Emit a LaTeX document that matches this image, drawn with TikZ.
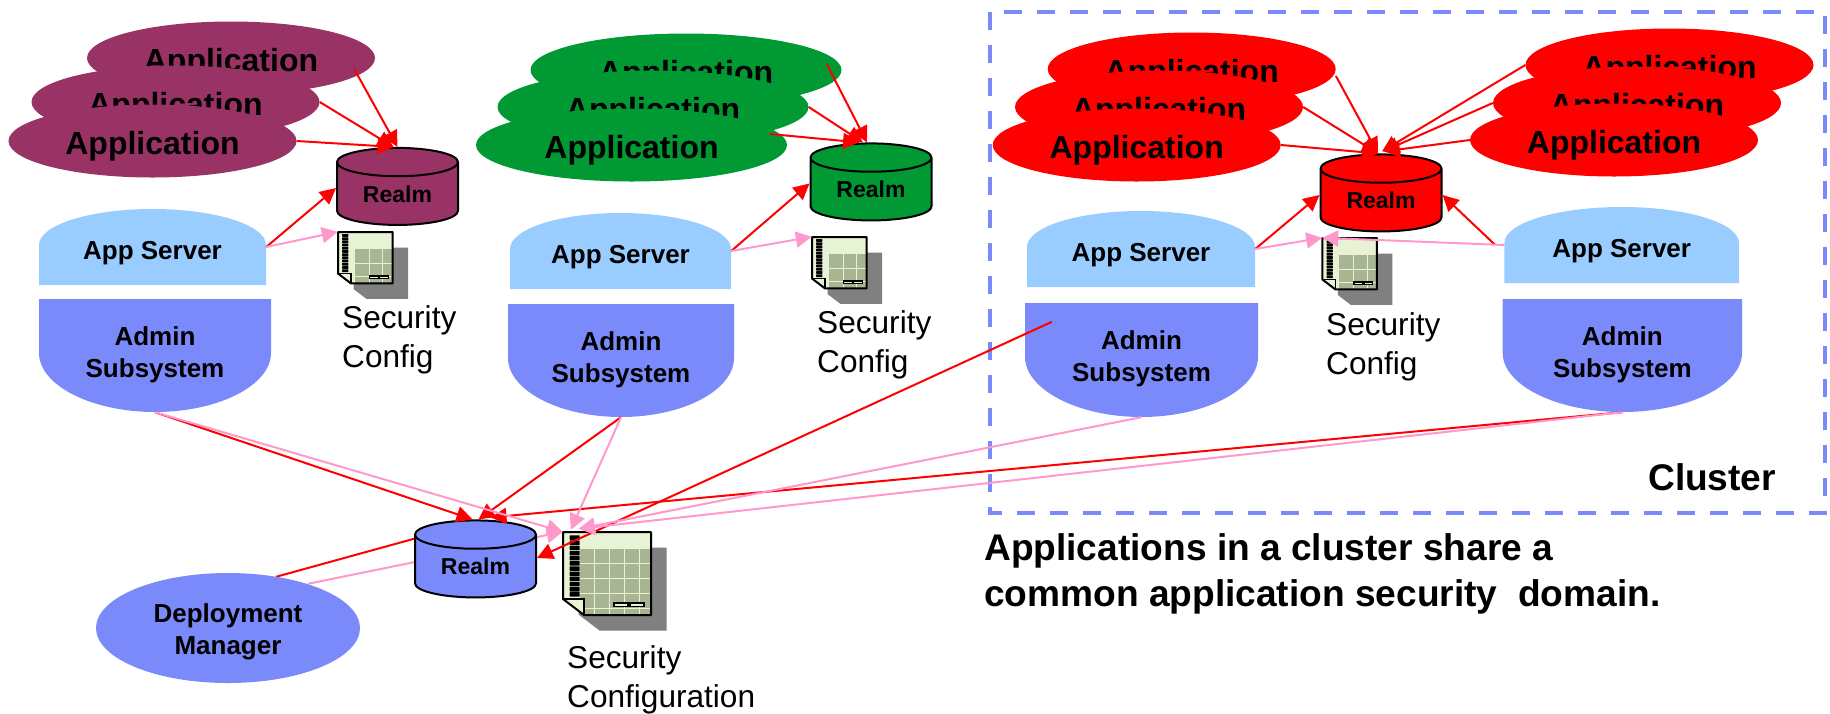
\documentclass[tikz,border=0pt]{standalone}
\usepackage{fontspec}
\setmainfont{Liberation Sans}
\usetikzlibrary{arrows.meta}
\usetikzlibrary{backgrounds}
\usetikzlibrary{shapes.geometric}

\definecolor{plumfill}{HTML}{993366}
\definecolor{greenfill}{HTML}{009933}
\definecolor{redfill}{HTML}{FF0000}
\definecolor{srvblue}{HTML}{99CCFF}
\definecolor{admblue}{HTML}{7B8AFA}
\definecolor{linkpink}{HTML}{FF99CC}
\definecolor{pagelight}{HTML}{E8F2D5}
\definecolor{pagedark}{HTML}{A9B592}
\definecolor{shadowgray}{HTML}{808080}

\tikzset{
    appnode/.style={ellipse,fill=#1,inner sep=0pt,minimum width=288pt,minimum height=73pt,text height=26pt,text depth=0pt,
        font=\fontsize{32}{38}\selectfont\bfseries},
    realmnode/.style={cylinder,shape border rotate=90,aspect=0.41,draw=black,line width=2pt,fill=#1,inner sep=0pt,
        minimum width=121pt,minimum height=77pt,font=\fontsize{23}{28}\selectfont\bfseries},
    boxframe/.style={rectangle,inner sep=0pt},
    boxtext/.style={align=center,inner sep=0pt,font=\fontsize{26}{32}\selectfont\bfseries},
    seclabel/.style={align=left,inner sep=0pt,anchor=north west,font=\fontsize{31.6}{39}\selectfont},
    bigtext/.style={align=left,inner sep=0pt,anchor=base west,font=\fontsize{37.1}{46}\selectfont\bfseries},
    redlink/.style={every edge/.style={draw=redfill,line width=2pt,-{Triangle[length=16pt,width=16pt]}}},
    pinklink/.style={every edge/.style={draw=linkpink,line width=2pt,-{Triangle[length=16pt,width=16pt]}}},
}

\newcommand{\serverbox}[5]{% name, left, right, top, bottom
    \pgfmathsetmacro{\midx}{(#2+#3)/2}
    \pgfmathsetmacro{\ctrlx}{(#3-#2)*0.276}
    \fill[srvblue] (#2,#5) -- (#2,#4+36) .. controls (#2,#4+16) and (\midx-\ctrlx,#4) .. (\midx,#4)
        .. controls (\midx+\ctrlx,#4) and (#3,#4+16) .. (#3,#4+36) -- (#3,#5) -- cycle;
    \node [boxframe,minimum width={(#3-#2)*1pt},minimum height={(#5-#4)*1pt}] (#1) at (\midx,{(#4+#5)/2}) {};
    \node [boxtext] (#1text) at ([yshift=-6pt]#1.center) {App Server};
}
\newcommand{\adminbox}[5]{% name, left, right, top, bottom
    \pgfmathsetmacro{\midx}{(#2+#3)/2}
    \pgfmathsetmacro{\ctrlx}{(#3-#2)*0.276}
    \fill[admblue] (#2,#4) -- (#3,#4) -- (#3,#4+54) .. controls (#3,#4+86) and (\midx+\ctrlx,#5) .. (\midx,#5)
        .. controls (\midx-\ctrlx,#5) and (#2,#4+86) .. (#2,#4+54) -- cycle;
    \node [boxframe,minimum width={(#3-#2)*1pt},minimum height={(#5-#4)*1pt}] (#1) at (\midx,{(#4+#5)/2}) {};
    \node [boxtext] (#1text) at ([yshift=1pt]#1.center) {Admin\\Subsystem};
}
\newcommand{\secdoc}[5]{% name, left, top, scale, grid lines
    \pgfmathsetmacro{\shd}{15.5/#4}
    \begin{scope}[shift={(#2,#3)},scale=#4]
        \fill[shadowgray] (\shd,\shd) -- ++(88,0) -- ++(0,83) -- ++(-67,0) -- ++(-21,-16) -- cycle;
        \fill[pagelight] (0,0) -- (88,0) -- (88,83) -- (21,83) -- (0,67) -- cycle;
        \begin{scope}
            \clip (0,0) -- (88,0) -- (88,83) -- (21,83) -- (0,67) -- cycle;
            \fill[pagedark] (\shd,\shd) rectangle ++(88,83);
            \foreach \gridpos in {#5} {
                \draw[pagelight,line width=0.8pt] (\gridpos,0) -- (\gridpos,83);
                \draw[pagelight,line width=0.8pt] (0,\gridpos) -- (88,\gridpos);
            }
        \end{scope}
        \foreach \bead in {0,...,11}
            \fill[black,rounded corners=0.5pt] (6.7,3.3+\bead*5.17) rectangle ++(10,4.5);
        \fill[pagelight] (0,67) -- (21,67) -- (21,83) -- cycle;
        \draw[black,line width=2pt,line join=round] (0,0) -- (88,0) -- (88,83) -- (21,83) -- (0,67) -- cycle;
        \draw[black,line width=1.5pt] (0,67) -- (21,67) -- (21,83);
        \draw[black,fill=pagelight,line width=1.2pt] (51,71) rectangle ++(14,3.6);
        \draw[black,fill=pagelight,line width=1.2pt] (67,71) rectangle ++(14,3.6);
    \end{scope}
    \node [boxframe,minimum width={88*#4*1pt},minimum height={83*#4*1pt}] (#1) at ({#2+44*#4},{#3+41.5*#4}) {};
}

\begin{document}
\begin{tikzpicture}[x=1pt,y=-1pt]
    \useasboundingbox (0,0) rectangle (1830,713);

    % cluster frame
    \draw[admblue,line width=4pt,dash pattern=on 18pt off 15pt] (990,12) rectangle (1825,513);

    % applications
    \node [appnode=plumfill] (appP1) at (231,58) {Application};
    \node [appnode=plumfill] (appP2) at (175.5,102) {Application};
    \node [appnode=plumfill] (appP3) at (152.5,141) {Application};
    \node [appnode=greenfill,minimum width=311pt] (appG1) at (686,70) {Application};
    \node [appnode=greenfill,minimum width=311pt] (appG2) at (653,107) {Application};
    \node [appnode=greenfill,minimum width=311pt] (appG3) at (631.5,145) {Application};
    \node [appnode=redfill] (appR1) at (1191.7,69) {Application};
    \node [appnode=redfill] (appR2) at (1159,107) {Application};
    \node [appnode=redfill] (appR3) at (1136.7,145) {Application};
    \node [appnode=redfill] (appS1) at (1669.5,65) {Application};
    \node [appnode=redfill] (appS2) at (1637,103) {Application};
    \node [appnode=redfill] (appS3) at (1614,140) {Application};

    % realms
    \node [realmnode=plumfill] (realmP) at (397.5,194) {Realm};
    \node [realmnode=greenfill] (realmG) at (871,189.5) {Realm};
    \node [realmnode=redfill] (realmR) at (1381,200.5) {Realm};
    \node [realmnode=admblue] (realmB) at (475.5,566.5) {Realm};

    % servers
    \serverbox{srvP}{39}{266}{209}{285}
    \adminbox{admP}{39}{271}{299}{412}
    \serverbox{srvG}{510}{731}{213}{289}
    \adminbox{admG}{508}{734}{304}{417}
    \serverbox{srvR}{1027}{1255}{211}{287}
    \adminbox{admR}{1025}{1258}{303}{417}
    \serverbox{srvS}{1504.4}{1739}{207}{283}
    \adminbox{admS}{1502.7}{1742}{299}{412}

    % security configs
    \secdoc{docP}{338}{232}{0.62}{26,50,72}
    \secdoc{docG}{812}{237}{0.62}{26,50,72}
    \secdoc{docR}{1322.4}{238}{0.62}{26,50,72}
    \secdoc{docB}{563}{532}{1}{16,31,46,61,76}
    \node [seclabel] (secP) at (342,305) {Security\\Config};
    \node [seclabel] (secG) at (817,310) {Security\\Config};
    \node [seclabel] (secR) at (1326,312) {Security\\Config};
    \node [seclabel] (secB) at (567,645) {Security\\Configuration};

    \node [ellipse,fill=admblue,inner sep=0pt,minimum width=264pt,minimum height=110pt] (deploy) at (228,628) {};
    \node [boxtext] (deploytext) at (228,632) {Deployment\\Manager};

    \node [bigtext] (clusterlabel) at (1648,490) {Cluster};
    \node [bigtext] (note) at (984,606) {Applications in a cluster share a\\common application security~ domain.};

    % these two pass behind the realm
    \begin{scope}[on background layer]
        \path[redlink]
            ([xshift=48pt,yshift=-4pt]deploy.north) edge ([xshift=30pt,yshift=36pt]realmB.west);
        \path[pinklink]
            ([xshift=80pt,yshift=-11pt]deploy.north) edge (docB.north west);
    \end{scope}

    \path[redlink]
        ([xshift=-21pt,yshift=-11pt]appP1.east) edge (realmP.north)
        (appP2.east) edge ([xshift=-4pt]realmP.north)
        (appP3.east) edge ([xshift=-4pt]realmP.north)
        (srvP.east) edge ([yshift=6pt]realmP.west)
        ([xshift=-15pt,yshift=6pt]appG1.east) edge ([xshift=-4pt]realmG.north)
        (appG2.east) edge ([xshift=-8pt]realmG.north)
        ([xshift=-17pt,yshift=11pt]appG3.east) edge ([xshift=-12pt]realmG.north)
        (srvG.east) edge ([yshift=6pt]realmG.west)
        ([yshift=-7pt]appR1.east) edge ([xshift=-3pt]realmR.north)
        (appR2.east) edge ([xshift=-3pt]realmR.north)
        (appR3.east) edge ([xshift=-3pt]realmR.north)
        (appS1.west) edge ([xshift=1pt,yshift=2pt]realmR.north)
        (appS2.west) edge ([xshift=2pt,yshift=2pt]realmR.north)
        (appS3.west) edge ([xshift=3pt,yshift=2pt]realmR.north)
        (srvR.east) edge ([yshift=5.5pt]realmR.west)
        ([xshift=-9pt]srvS.west) edge ([yshift=5.5pt]realmR.east)
        (admP.south) edge ([xshift=-3pt]realmB.north)
        (admG.south) edge ([xshift=3pt]realmB.north)
        (admS.south) edge ([xshift=15pt,yshift=2pt]realmB.north)
        ([xshift=27pt,yshift=-19pt]admR.north west) edge ([yshift=8.5pt]realmB.east);
    \path[pinklink]
        (srvP.east) edge (docP.north west)
        (srvG.east) edge (docG.north west)
        (srvR.east) edge (docR.north west)
        (srvS.west) edge (docR.north west)
        (admP.south) edge (docB.north west)
        (admG.south) edge ([xshift=8pt,yshift=2pt]docB.north west)
        (admR.south) edge ([xshift=16pt,yshift=3pt]docB.north west)
        (admS.south) edge ([xshift=16pt,yshift=3pt]docB.north west);
\end{tikzpicture}
\end{document}
